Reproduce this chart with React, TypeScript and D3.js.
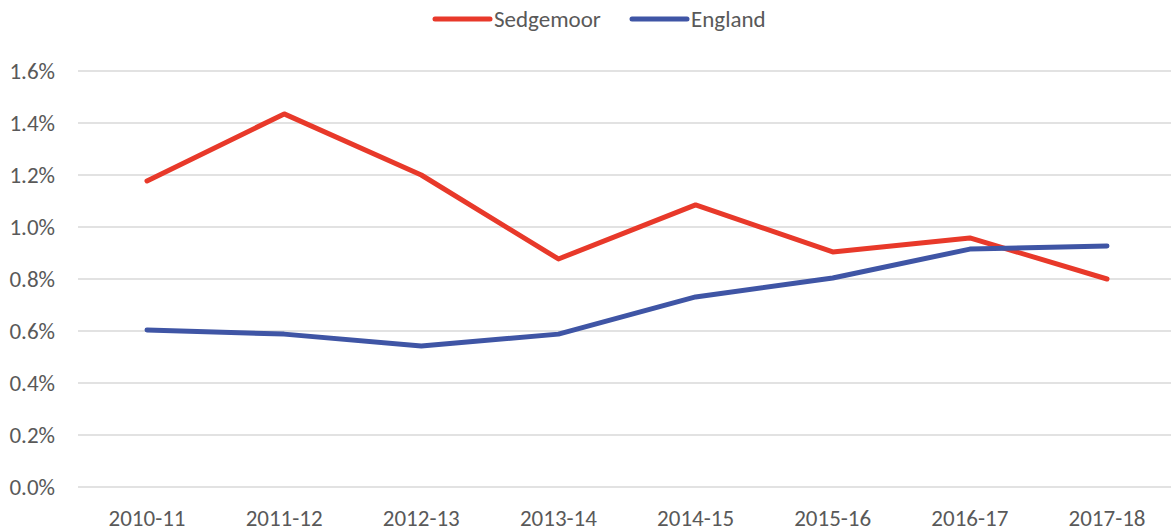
import React from "react";
import * as d3 from "d3";

const categories = ["2010-11", "2011-12", "2012-13", "2013-14", "2014-15", "2015-16", "2016-17", "2017-18"];
const sedgemoor = [1.177, 1.435, 1.2, 0.877, 1.085, 0.904, 0.958, 0.8];
const england = [0.604, 0.588, 0.542, 0.588, 0.731, 0.804, 0.915, 0.927];
const yTicks = [0, 0.2, 0.4, 0.6, 0.8, 1.0, 1.2, 1.4, 1.6];

const W = 1171;
const H = 532;
const FONT = "Carlito, Lato, 'Open Sans', sans-serif";
const TEXT = "#595959";
const RED = "#E8392A";
const BLUE = "#3F55A5";
const FS = 23;

export default function App() {
  const x = d3.scalePoint<string>().domain(categories).range([147, 1107]);
  const y = d3.scaleLinear().domain([0, 1.6]).range([487, 71]);
  const line = d3
    .line<number>()
    .x((_, i) => x(categories[i]) as number)
    .y((d) => y(d));

  const series = [
    { name: "Sedgemoor", values: sedgemoor, color: RED, lx: 435 },
    { name: "England", values: england, color: BLUE, lx: 632 },
  ];

  return (
    <svg width={W} height={H} style={{ position: "absolute", left: 0, top: 0 }} fontFamily={FONT}>
      <rect width={W} height={H} fill="#fff" />
      {yTicks.map((t) => (
        <g key={t}>
          <line x1={78} x2={1176} y1={y(t)} y2={y(t)} stroke="#d9d9d9" strokeWidth={1.5} />
          <text x={55} y={y(t)} dy="0.35em" textAnchor="end" fontSize={FS} fill={TEXT}>
            {t.toFixed(1) + "%"}
          </text>
        </g>
      ))}
      {categories.map((c) => (
        <text key={c} x={x(c)} y={526} textAnchor="middle" fontSize={FS} fill={TEXT}>
          {c}
        </text>
      ))}
      {series.map((s) => (
        <path
          key={s.name}
          d={line(s.values) || ""}
          fill="none"
          stroke={s.color}
          strokeWidth={5}
          strokeLinejoin="round"
          strokeLinecap="round"
        />
      ))}
      {series.map((s) => (
        <g key={s.name + "-leg"}>
          <line x1={s.lx} x2={s.lx + 55} y1={19} y2={19} stroke={s.color} strokeWidth={5} strokeLinecap="round" />
          <text x={s.lx + 59} y={19} dy="0.35em" fontSize={FS} fill={TEXT}>
            {s.name}
          </text>
        </g>
      ))}
    </svg>
  );
}
